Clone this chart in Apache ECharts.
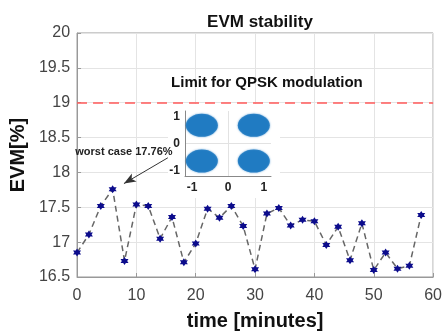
<!DOCTYPE html>
<html>
<head>
<meta charset="utf-8">
<script src="https://cdn.jsdelivr.net/npm/echarts@6/dist/echarts.min.js"></script>
<style>
  html, body { margin: 0; padding: 0; background: #fff; }
  #chartEvm { width: 445px; height: 336px; }
</style>
</head>
<body>
<div id="chartEvm"></div>
<script>
// measured EVM, one sample every 2 minutes
var timeMin = [0, 2, 4, 6, 8, 10, 12, 14, 16, 18, 20, 22, 24, 26, 28, 30, 32, 34, 36, 38, 40, 42, 44, 46, 48, 50, 52, 54, 56, 58];
var evmPct = [16.85, 17.11, 17.52, 17.76, 16.73, 17.54, 17.52, 17.05, 17.36, 16.71, 16.98, 17.48, 17.35, 17.52, 17.23, 16.61, 17.41, 17.49, 17.24, 17.32, 17.30, 16.96, 17.22, 16.74, 17.27, 16.60, 16.85, 16.62, 16.66, 17.39];
var qpskLimit = 19;
var worstCase = [6, 17.76];
// constellation cluster centres (I, Q)
var clusterI = [-0.73, 0.72, -0.73, 0.72];
var clusterQ = [0.67, 0.67, -0.65, -0.65];
var insetTicks = [-1, 0, 1];

drawEvm();
function drawEvm(){
	var myChart = echarts.init(document.getElementById('chartEvm'));
	var font = 'Liberation Sans, Arial, sans-serif';
	var hexagram = 'path://M10 0 L12.89 5 L18.66 5 L15.77 10 L18.66 15 L12.89 15 L10 20 L7.11 15 L1.34 15 L4.23 10 L1.34 5 L7.11 5 Z';
	var pts = timeMin.map(function(t, i){ return [t, evmPct[i]]; });
	var clusters = clusterI.map(function(v, i){ return [v, clusterQ[i]]; });

	var option = {
		animation: false,
		textStyle: { fontFamily: font },
		title: {
			text: 'EVM stability',
			left: 255,
			top: 9,
			textAlign: 'center',
			textStyle: { fontSize: 17, fontWeight: 'bold', color: '#111', fontFamily: font }
		},
		graphic: [{
			type: 'rect',
			z: 1,
			shape: { x: 168, y: 104, width: 112, height: 94 },
			style: { fill: '#fff' }
		}],
		grid: [{
			left: 75, right: 9, top: 33, bottom: 56,
			show: true,
			borderColor: '#999',
			borderWidth: 1
		}, {
			left: 185, top: 111, width: 86, height: 65
		}],
		xAxis: [{
			type: 'value',
			min: 0, max: 60, interval: 10,
			name: 'time [minutes]',
			nameLocation: 'middle',
			nameGap: 34,
			nameTextStyle: { fontSize: 20, fontWeight: 'bold', color: '#111' },
			axisLine: { lineStyle: { color: '#999' } },
			axisTick: { inside: true, length: 4, lineStyle: { color: '#999' } },
			axisLabel: { fontSize: 16, color: '#444', margin: 11 },
			splitLine: { lineStyle: { color: '#e4e4e4' } }
		}, {
			type: 'value',
			gridIndex: 1,
			min: -1.2, max: 1.2,
			z: 5,
			axisLine: { onZero: false, lineStyle: { color: '#888' } },
			axisTick: { show: false },
			axisLabel: { fontSize: 12, fontWeight: 'bold', color: '#222', margin: 6, customValues: insetTicks },
			splitLine: { show: false }
		}],
		yAxis: [{
			type: 'value',
			min: 16.5, max: 20, interval: 0.5,
			name: 'EVM[%]',
			nameLocation: 'middle',
			nameGap: 45,
			nameTextStyle: { fontSize: 20, fontWeight: 'bold', color: '#111' },
			axisLine: { lineStyle: { color: '#999' } },
			axisTick: { inside: true, length: 4, lineStyle: { color: '#999' } },
			axisLabel: { fontSize: 16, color: '#444', margin: 7 },
			splitLine: { lineStyle: { color: '#e4e4e4' } }
		}, {
			type: 'value',
			gridIndex: 1,
			min: -1.2, max: 1.2,
			z: 5,
			axisLine: { show: true, onZero: false, lineStyle: { color: '#888' } },
			axisTick: { show: false },
			axisLabel: { fontSize: 12, fontWeight: 'bold', color: '#222', margin: 5, customValues: insetTicks },
			splitLine: { show: false }
		}],
		series: [{
			type: 'line',
			data: pts,
			z: 3,
			symbol: hexagram,
			symbolSize: 8,
			itemStyle: { color: '#0c0c8c' },
			lineStyle: { color: '#666', width: 1.5, type: [6, 4] },
			markLine: {
				silent: true,
				symbol: 'none',
				label: { show: false },
				data: [{
					yAxis: qpskLimit,
					lineStyle: { color: '#ff5a5a', width: 1.5, type: [10, 6] }
				}, [
					{ coord: [15.3, 18.21], symbol: 'none' },
					{ coord: [7.9, 17.84], symbol: 'arrow', symbolSize: [7, 12] }
				]],
				lineStyle: { color: '#333', width: 1, type: 'solid' }
			},
			markPoint: {
				silent: true,
				symbol: 'rect',
				symbolSize: 0,
				data: [{
					coord: [32, 19.29],
					label: { show: true, formatter: 'Limit for QPSK modulation', fontSize: 15, fontWeight: 'bold', color: '#111', position: 'inside' }
				}, {
					coord: [7.9, 18.3],
					label: { show: true, formatter: 'worst case ' + worstCase[1] + '%', fontSize: 11, fontWeight: 600, color: '#222', position: 'inside' }
				}]
			}
		}, {
			type: 'scatter',
			xAxisIndex: 1, yAxisIndex: 1,
			z: 7,
			data: clusters,
			symbol: 'circle',
			symbolSize: [32, 23],
			itemStyle: { color: '#1172bd', shadowBlur: 2, shadowColor: '#2f86cc' },
			markLine: {
				silent: true,
				symbol: 'none',
				label: { show: false },
				z: 2,
				lineStyle: { color: '#e2e2e2', width: 1, type: 'solid' },
				data: [{ xAxis: 0 }, { yAxis: 0 }]
			}
		}]
	};
	myChart.setOption(option);
}
</script>
</body>
</html>
